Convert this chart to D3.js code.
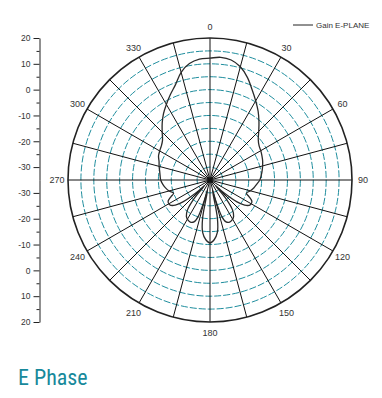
<!DOCTYPE html>
<html><head><meta charset="utf-8">
<script src="https://cdn.jsdelivr.net/npm/d3@7"></script>
<style>body{margin:0;background:#fff}svg{display:block}</style></head>
<body>
<script>
// ---- data ----
const angleDeg = [0,5,10,15,20,25,30,35,40,45,50,55,60,65,70,75,80,85,90,95,100,105,110,113,117,121,125,129,133,136,139,143,147,151,155,159,162,164.5,166.5,169,172,176,180,
  184,188,191,193.5,195.5,198,201,205,209,213,217,221,224,227,231,235,239,243,247,250,255,260,265,270,275,280,285,290,295,300,305,310,315,320,325,330,335,340,345,350,355];
const gainDb = [12.2,12.7,12.2,10.4,7.3,3.6,0.4,-2.5,-5.5,-8.3,-10.6,-11.8,-12.3,-12.8,-13.3,-13.9,-14.5,-15.1,-15.7,-16.8,-17.7,-18.8,-20.0,-18.6,-16.8,-16.6,-17.8,-21.5,-28,-32,-26,-20.5,-18.2,-17.3,-17.0,-17.6,-20,-27,-31,-20,-14.5,-11.8,-10.6,
  -11.8,-14.5,-20,-31,-27,-20,-17.6,-17.0,-17.3,-18.2,-20.5,-26,-32,-28,-21.5,-17.8,-16.6,-16.8,-18.6,-20.0,-18.6,-17.5,-16.6,-15.9,-15.6,-15.2,-14.6,-14.0,-13.0,-12.5,-12.0,-11.0,-8.8,-6.2,-3.6,-1.2,1.4,4.2,8.2,10.8,12.0];
const angleLabels = [0,30,60,90,120,150,180,210,240,270,300,330];
const ringDb = [-30,-25,-20,-15,-10,-5,0,5,10,15];
const radialMin = -35, radialMax = 20;
const axisTicks = [20,10,0,-10,-20,-30];
const axisMinor = [15,5,-5,-15,-25];
const spokeStep = 15;
const legendLabel = "Gain E-PLANE";
const titleText = "E Phase";

// ---- layout ----
const W=382,H=398,cx=210,cy=180,R=142;
const svg = d3.select("body").append("svg").attr("width",W).attr("height",H);
const r = d3.scaleLinear().domain([radialMin,radialMax]).range([0,R]);
const a = d3.scaleLinear().domain([0,360]).range([0,2*Math.PI]);
const g = svg.append("g").attr("transform",`translate(${cx},${cy})`);

// rings
g.selectAll("circle.ring").data(ringDb).join("circle").attr("class","ring")
  .attr("r",d=>r(d)).attr("fill","none").attr("stroke","#1f8e9e")
  .attr("stroke-width",1).attr("stroke-dasharray","7,2");

// spokes
const spokes = d3.range(0,360,spokeStep);
g.selectAll("line.spoke").data(spokes).join("line").attr("class","spoke")
  .attr("x1",0).attr("y1",0)
  .attr("x2",d=>R*Math.sin(a(d))).attr("y2",d=>-R*Math.cos(a(d)))
  .attr("stroke","#111").attr("stroke-width",1);

// outer circle
g.append("circle").attr("r",r(radialMax)).attr("fill","none").attr("stroke","#222").attr("stroke-width",1.6);

// gain curve
const line = d3.lineRadial()
  .angle((d,i)=>a(angleDeg[i]))
  .radius(d=>r(d))
  .curve(d3.curveCatmullRomClosed.alpha(0.5));
g.append("path").datum(gainDb).attr("d",line).attr("fill","none")
  .attr("stroke","#2a2a2a").attr("stroke-width",1.3);

// angle labels
g.selectAll("text.al").data(angleLabels).join("text").attr("class","al")
  .attr("x",d=>(R+11)*Math.sin(a(d))).attr("y",d=>-(R+11)*Math.cos(a(d)))
  .attr("text-anchor","middle").attr("dominant-baseline","central")
  .attr("font-family","'Liberation Sans',Arial,sans-serif").attr("font-size",9)
  .attr("fill","#333").text(d=>d);

// left radial axis (mirrored)
const axX = 39.5;
const yTop = d3.scaleLinear().domain([radialMin,radialMax]).range([cy,cy-R]);
const yBot = d3.scaleLinear().domain([radialMin,radialMax]).range([cy,cy+R]);
[yTop,yBot].forEach(sc=>{
  const ax = svg.append("g").attr("transform",`translate(${axX},0)`);
  ax.call(d3.axisLeft(sc).tickValues(axisTicks).tickSize(6).tickSizeOuter(0).tickFormat(d=>String(d)));
  const mn = svg.append("g").attr("transform",`translate(${axX},0)`);
  mn.call(d3.axisLeft(sc).tickValues(axisMinor).tickSize(3).tickSizeOuter(0).tickFormat(""));
  mn.select(".domain").remove();
  [ax,mn].forEach(s=>{
    s.selectAll("path,line").attr("stroke","#222");
    s.selectAll("text").attr("font-family","'Liberation Sans',Arial,sans-serif").attr("font-size",8.5).attr("fill","#333").attr("x",-9);
  });
});

// legend
svg.append("line").attr("x1",293).attr("x2",313).attr("y1",25).attr("y2",25).attr("stroke","#222").attr("stroke-width",1);
svg.append("text").attr("x",316).attr("y",25).attr("dominant-baseline","central")
  .attr("font-family","'Liberation Sans',Arial,sans-serif").attr("font-size",8).attr("fill","#333").text(legendLabel);

// title
svg.append("text").attr("x",18).attr("y",385)
  .attr("font-family","'Liberation Sans Narrow','Roboto Condensed',Roboto,sans-serif")
  .attr("font-size",22).attr("fill","#17899b").text(titleText);
</script>
</body></html>
